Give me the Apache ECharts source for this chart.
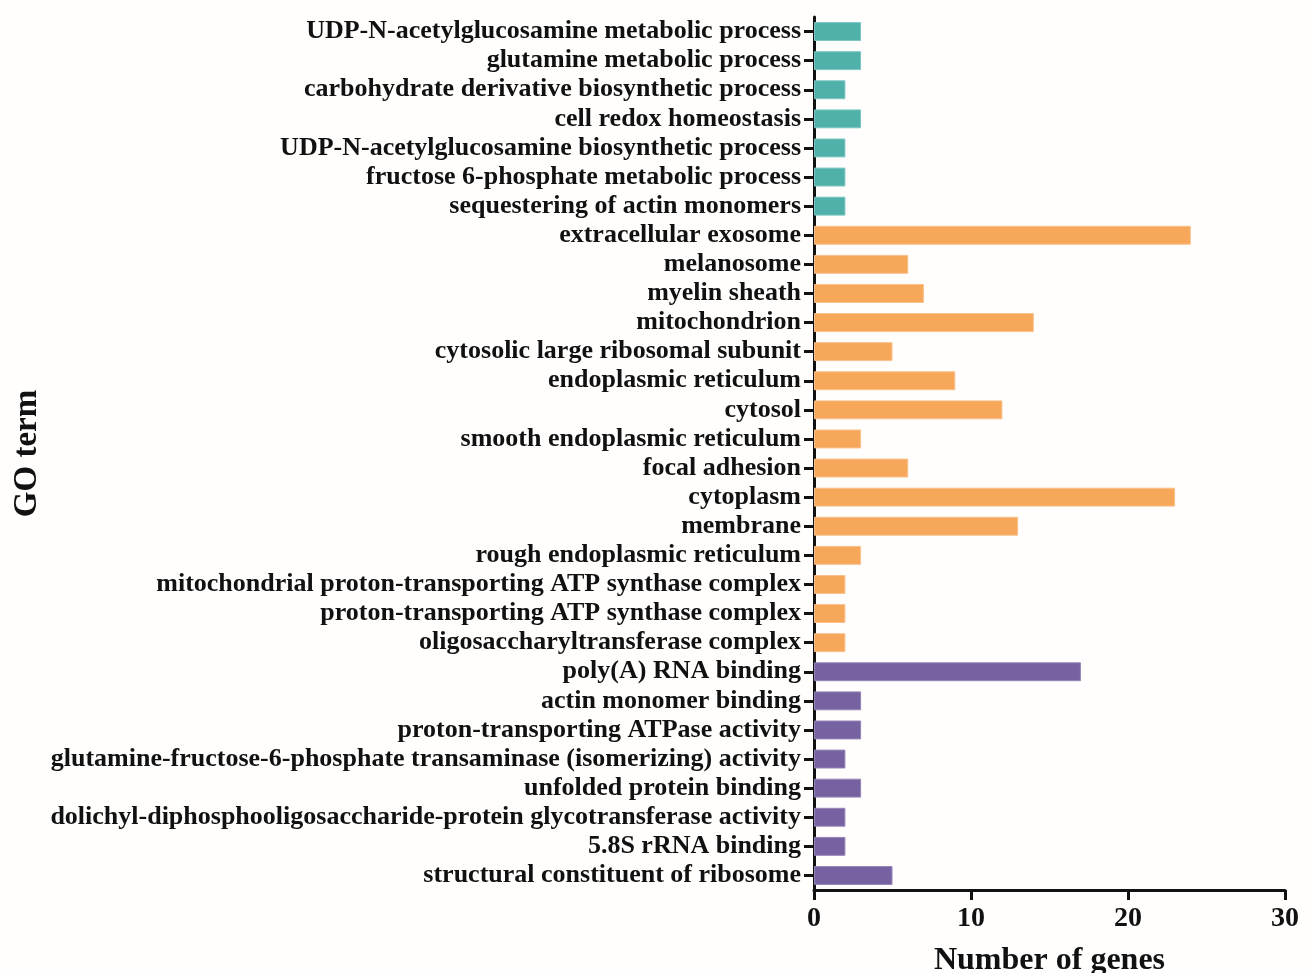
<!DOCTYPE html>
<html>
<head>
<meta charset="utf-8">
<title>GO term enrichment</title>
<script src="https://cdn.jsdelivr.net/npm/echarts@6/dist/echarts.min.js"></script>
<style>
  html, body { margin: 0; padding: 0; background: #fffefd; }
  #chart { width: 1313px; height: 973px; }
</style>
</head>
<body>
<div id="chart"></div>
<script>
// Biological process terms
const bpTerms = [
  'UDP-N-acetylglucosamine metabolic process',
  'glutamine metabolic process',
  'carbohydrate derivative biosynthetic process',
  'cell redox homeostasis',
  'UDP-N-acetylglucosamine biosynthetic process',
  'fructose 6-phosphate metabolic process',
  'sequestering of actin monomers'
];
const bpCounts = [3, 3, 2, 3, 2, 2, 2];

// Cellular component terms
const ccTerms = [
  'extracellular exosome',
  'melanosome',
  'myelin sheath',
  'mitochondrion',
  'cytosolic large ribosomal subunit',
  'endoplasmic reticulum',
  'cytosol',
  'smooth endoplasmic reticulum',
  'focal adhesion',
  'cytoplasm',
  'membrane',
  'rough endoplasmic reticulum',
  'mitochondrial proton-transporting ATP synthase complex',
  'proton-transporting ATP synthase complex',
  'oligosaccharyltransferase complex'
];
const ccCounts = [24, 6, 7, 14, 5, 9, 12, 3, 6, 23, 13, 3, 2, 2, 2];

// Molecular function terms
const mfTerms = [
  'poly(A) RNA binding',
  'actin monomer binding',
  'proton-transporting ATPase activity',
  'glutamine-fructose-6-phosphate transaminase (isomerizing) activity',
  'unfolded protein binding',
  'dolichyl-diphosphooligosaccharide-protein glycotransferase activity',
  '5.8S rRNA binding',
  'structural constituent of ribosome'
];
const mfCounts = [17, 3, 3, 2, 3, 2, 2, 5];

const xTicks = [0, 10, 20, 30];

const groupColors = ['#50b0aa', '#f6a75a', '#7662a0'];
const groupBorders = ['#7cc6c1', '#f9c08a', '#9685b8'];

const groups = [
  { terms: bpTerms, counts: bpCounts },
  { terms: ccTerms, counts: ccCounts },
  { terms: mfTerms, counts: mfCounts }
];

const categories = [];
const barData = [];
groups.forEach((g, gi) => {
  g.terms.forEach((t, i) => {
    categories.push(t);
    barData.push({
      value: g.counts[i],
      itemStyle: { color: groupColors[gi], borderColor: groupBorders[gi], borderWidth: 1 }
    });
  });
});

const serif = "'Liberation Serif', 'Times New Roman', 'DejaVu Serif', serif";

const chart = echarts.init(document.getElementById('chart'), null, { renderer: 'canvas' });
chart.setOption({
  backgroundColor: '#fffefd',
  animation: false,
  grid: {
    left: 814, right: 28, top: 17, bottom: 83,
    containLabel: false,
    outerBoundsMode: 'none'
  },
  xAxis: {
    type: 'value',
    min: xTicks[0],
    max: xTicks[xTicks.length - 1],
    interval: xTicks[1] - xTicks[0],
    name: 'Number of genes',
    nameLocation: 'middle',
    nameGap: 55,
    nameTextStyle: { fontFamily: serif, fontWeight: 'bold', fontSize: 32, color: '#111' },
    axisLine: { show: true, onZero: false, lineStyle: { color: '#111', width: 3 } },
    axisTick: { show: true, length: 10, lineStyle: { color: '#111', width: 3 } },
    splitLine: { show: false },
    axisLabel: { fontFamily: serif, fontWeight: 'bold', fontSize: 28, color: '#111', margin: 15 }
  },
  yAxis: {
    type: 'category',
    inverse: true,
    data: categories,
    name: 'GO term',
    nameLocation: 'middle',
    nameRotate: 90,
    nameGap: 770,
    nameTextStyle: { fontFamily: serif, fontWeight: 'bold', fontSize: 33, color: '#111' },
    axisLine: { show: true, lineStyle: { color: '#111', width: 3 } },
    axisTick: { show: true, alignWithLabel: true, length: 10, lineStyle: { color: '#111', width: 3 } },
    axisLabel: { fontFamily: serif, fontWeight: 'bold', fontSize: 26, color: '#111', margin: 13, interval: 0 }
  },
  series: [{
    type: 'bar',
    data: barData,
    barCategoryGap: '35%'
  }]
});
</script>
</body>
</html>
